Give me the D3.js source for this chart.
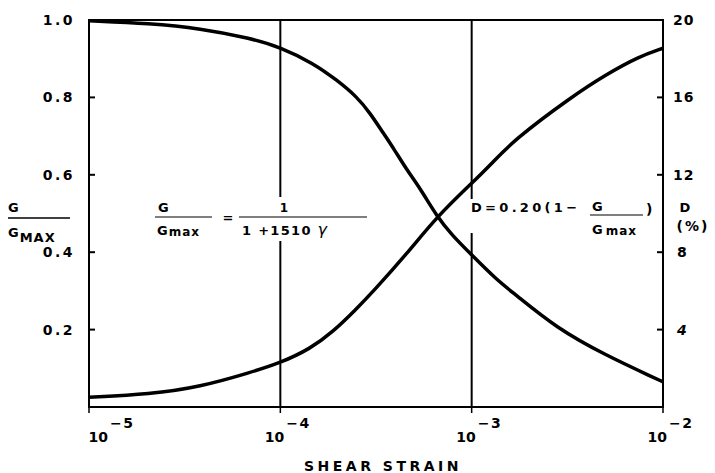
<!DOCTYPE html>
<html>
<head>
<meta charset="utf-8">
<script src="https://cdn.jsdelivr.net/npm/d3@7"></script>
<style>
html,body{margin:0;padding:0;background:#fff;}
text{font-family:"DejaVu Sans",sans-serif;font-weight:bold;fill:#000;}
</style>
</head>
<body>
<svg id="chart" width="715" height="473"></svg>
<script>
// ---- data ----
const gStrain = [1e-5, 2.08e-5, 3.81e-5, 6.95e-5, 1e-4, 1.49e-4, 1.97e-4, 2.51e-4, 2.95e-4, 3.46e-4, 3.91e-4, 4.59e-4, 5.38e-4, 6.59e-4, 7.89e-4, 1e-3, 1.355e-3, 1.66e-3, 2.79e-3, 5.0e-3, 9.12e-3, 1e-2];
const gRatio  = [0.998, 0.991, 0.978, 0.953, 0.930, 0.888, 0.845, 0.802, 0.759, 0.707, 0.668, 0.612, 0.565, 0.492, 0.444, 0.393, 0.328, 0.294, 0.203, 0.134, 0.074, 0.065];
const dStrain = [1e-5, 2.08e-5, 3.81e-5, 6.95e-5, 1e-4, 1.43e-4, 1.89e-4, 2.46e-4, 3.05e-4, 4.60e-4, 6.59e-4, 1e-3, 1.25e-3, 1.66e-3, 3.34e-3, 5.0e-3, 7.43e-3, 1e-2];
const dPercent= [0.50, 0.66, 1.04, 1.78, 2.28, 3.0, 3.9, 5.0, 5.96, 7.94, 9.84, 11.56, 12.5, 13.8, 16.04, 17.16, 18.1, 18.54];
const xTickExp = [-5, -4, -3, -2];
const gridExp = [-4, -3];
const leftTicks = [1.0, 0.8, 0.6, 0.4, 0.2];
const rightTicks = [20, 16, 12, 8, 4];

const svg = d3.select("#chart");
const L = 89, R = 663, T = 20, B = 407;
const x = d3.scaleLog().domain([1e-5, 1e-2]).range([L, R]);
const y = d3.scaleLinear().domain([0, 1]).range([B, T]);
const yD = d3.scaleLinear().domain([0, 20]).range([B, T]);

// frame
svg.append("rect").attr("x", L).attr("y", T).attr("width", R - L).attr("height", B - T)
  .attr("fill", "none").attr("stroke", "#000").attr("stroke-width", 2);

// vertical grid lines with gaps for annotation text
const gaps = {"-4": [197, 241], "-3": [199, 233]};
gridExp.forEach(e => {
  const xv = x(Math.pow(10, e));
  const g = gaps[String(e)];
  svg.append("line").attr("x1", xv).attr("x2", xv).attr("y1", T).attr("y2", g[0]).attr("stroke", "#000").attr("stroke-width", 2);
  svg.append("line").attr("x1", xv).attr("x2", xv).attr("y1", g[1]).attr("y2", B).attr("stroke", "#000").attr("stroke-width", 2);
});

// left ticks & labels
leftTicks.forEach(v => {
  if (v < 1) svg.append("line").attr("x1", L).attr("x2", L + 6).attr("y1", y(v)).attr("y2", y(v)).attr("stroke", "#000").attr("stroke-width", 2);
  svg.append("text").attr("x", 75).attr("y", y(v) + 5).attr("text-anchor", "end")
    .attr("font-size", 14).attr("letter-spacing", 2.5).text(v.toFixed(1));
});
// right ticks & labels
rightTicks.forEach(v => {
  if (v < 20) svg.append("line").attr("x1", R - 6).attr("x2", R).attr("y1", yD(v)).attr("y2", yD(v)).attr("stroke", "#000").attr("stroke-width", 2);
  svg.append("text").attr("x", v >= 10 ? 673 : 677).attr("y", yD(v) + 5)
    .attr("font-size", 14).attr("letter-spacing", 1)
    .attr("font-style", v === 4 ? "italic" : "normal").text(v);
});
// x ticks & labels
xTickExp.forEach(e => {
  const xv = x(Math.pow(10, e));
  svg.append("line").attr("x1", xv).attr("x2", xv).attr("y1", B).attr("y2", B + 6).attr("stroke", "#000").attr("stroke-width", 1.5);
  const off = e === -5 ? 15 : 0;
  svg.append("text").attr("x", xv + off + 4).attr("y", 442).attr("text-anchor", "end")
    .attr("font-size", 14).attr("font-weight", "normal").text("10");
  svg.append("text").attr("x", xv + off + 6).attr("y", 428)
    .attr("font-size", 14).attr("letter-spacing", 1.5).text("\u2212" + Math.abs(e));
});

// curves
const lineG = d3.line().x((d, i) => x(gStrain[i])).y(d => y(d)).curve(d3.curveBasis);
const lineD = d3.line().x((d, i) => x(dStrain[i])).y(d => yD(d)).curve(d3.curveBasis);
svg.append("path").attr("d", lineG(gRatio)).attr("fill", "none").attr("stroke", "#000").attr("stroke-width", 3.5);
svg.append("path").attr("d", lineD(dPercent)).attr("fill", "none").attr("stroke", "#000").attr("stroke-width", 3.5);

// axis title
svg.append("text").attr("x", 383).attr("y", 471).attr("text-anchor", "middle")
  .attr("font-size", 14).attr("letter-spacing", 3.5).text("SHEAR STRAIN");

// left y label G / GMAX
svg.append("text").attr("x", 8).attr("y", 212).attr("font-size", 13).text("G");
svg.append("line").attr("x1", 8).attr("x2", 70).attr("y1", 218).attr("y2", 218).attr("stroke", "#000").attr("stroke-width", 1.5);
const gm = svg.append("text").attr("x", 8).attr("y", 237).attr("font-size", 13);
gm.append("tspan").text("G");
gm.append("tspan").attr("dy", 5).attr("dx", 1).attr("letter-spacing", 1).text("MAX");

// right y label D (%)
svg.append("text").attr("x", 685).attr("y", 212).attr("text-anchor", "middle").attr("font-size", 13).text("D");
svg.append("text").attr("x", 693).attr("y", 231).attr("text-anchor", "middle").attr("font-size", 14).attr("letter-spacing", 2).text("(%)");

// equation 1
svg.append("text").attr("x", 158).attr("y", 212).attr("font-size", 13).text("G");
svg.append("line").attr("x1", 155).attr("x2", 212).attr("y1", 217).attr("y2", 217).attr("stroke", "#000").attr("stroke-width", 1.2);
const e1 = svg.append("text").attr("x", 157).attr("y", 235).attr("font-size", 13);
e1.append("tspan").text("G");
e1.append("tspan").attr("font-size", 12).attr("dx", 1).attr("dy", 1).attr("letter-spacing", 1).text("max");
svg.append("text").attr("x", 228).attr("y", 222).attr("text-anchor", "middle").attr("font-size", 13).text("=");
svg.append("text").attr("x", 284).attr("y", 212).attr("text-anchor", "middle").attr("font-size", 12).attr("font-weight", "normal").text("1");
svg.append("line").attr("x1", 239).attr("x2", 367).attr("y1", 217).attr("y2", 217).attr("stroke", "#000").attr("stroke-width", 1.2);
const e1b = svg.append("text").attr("x", 242).attr("y", 235).attr("font-size", 13).attr("letter-spacing", 1.3);
e1b.append("tspan").text("1 +1510 ");
e1b.append("tspan").attr("font-style", "italic").attr("font-weight", "normal").attr("font-size", 16).text("\u03b3");

// equation 2
svg.append("text").attr("x", 471).attr("y", 212).attr("font-size", 13).attr("letter-spacing", 3.3).text("D=0.20(1\u2212");
svg.append("text").attr("x", 592).attr("y", 211).attr("font-size", 13).text("G");
svg.append("line").attr("x1", 590).attr("x2", 643).attr("y1", 215).attr("y2", 215).attr("stroke", "#000").attr("stroke-width", 1.2);
const e2 = svg.append("text").attr("x", 592).attr("y", 234).attr("font-size", 13);
e2.append("tspan").text("G");
e2.append("tspan").attr("dx", 3).attr("font-size", 12).attr("dy", 1).attr("letter-spacing", 1).text("max");
svg.append("text").attr("x", 646).attr("y", 214).attr("font-size", 14).text(")");
</script>
</body>
</html>
